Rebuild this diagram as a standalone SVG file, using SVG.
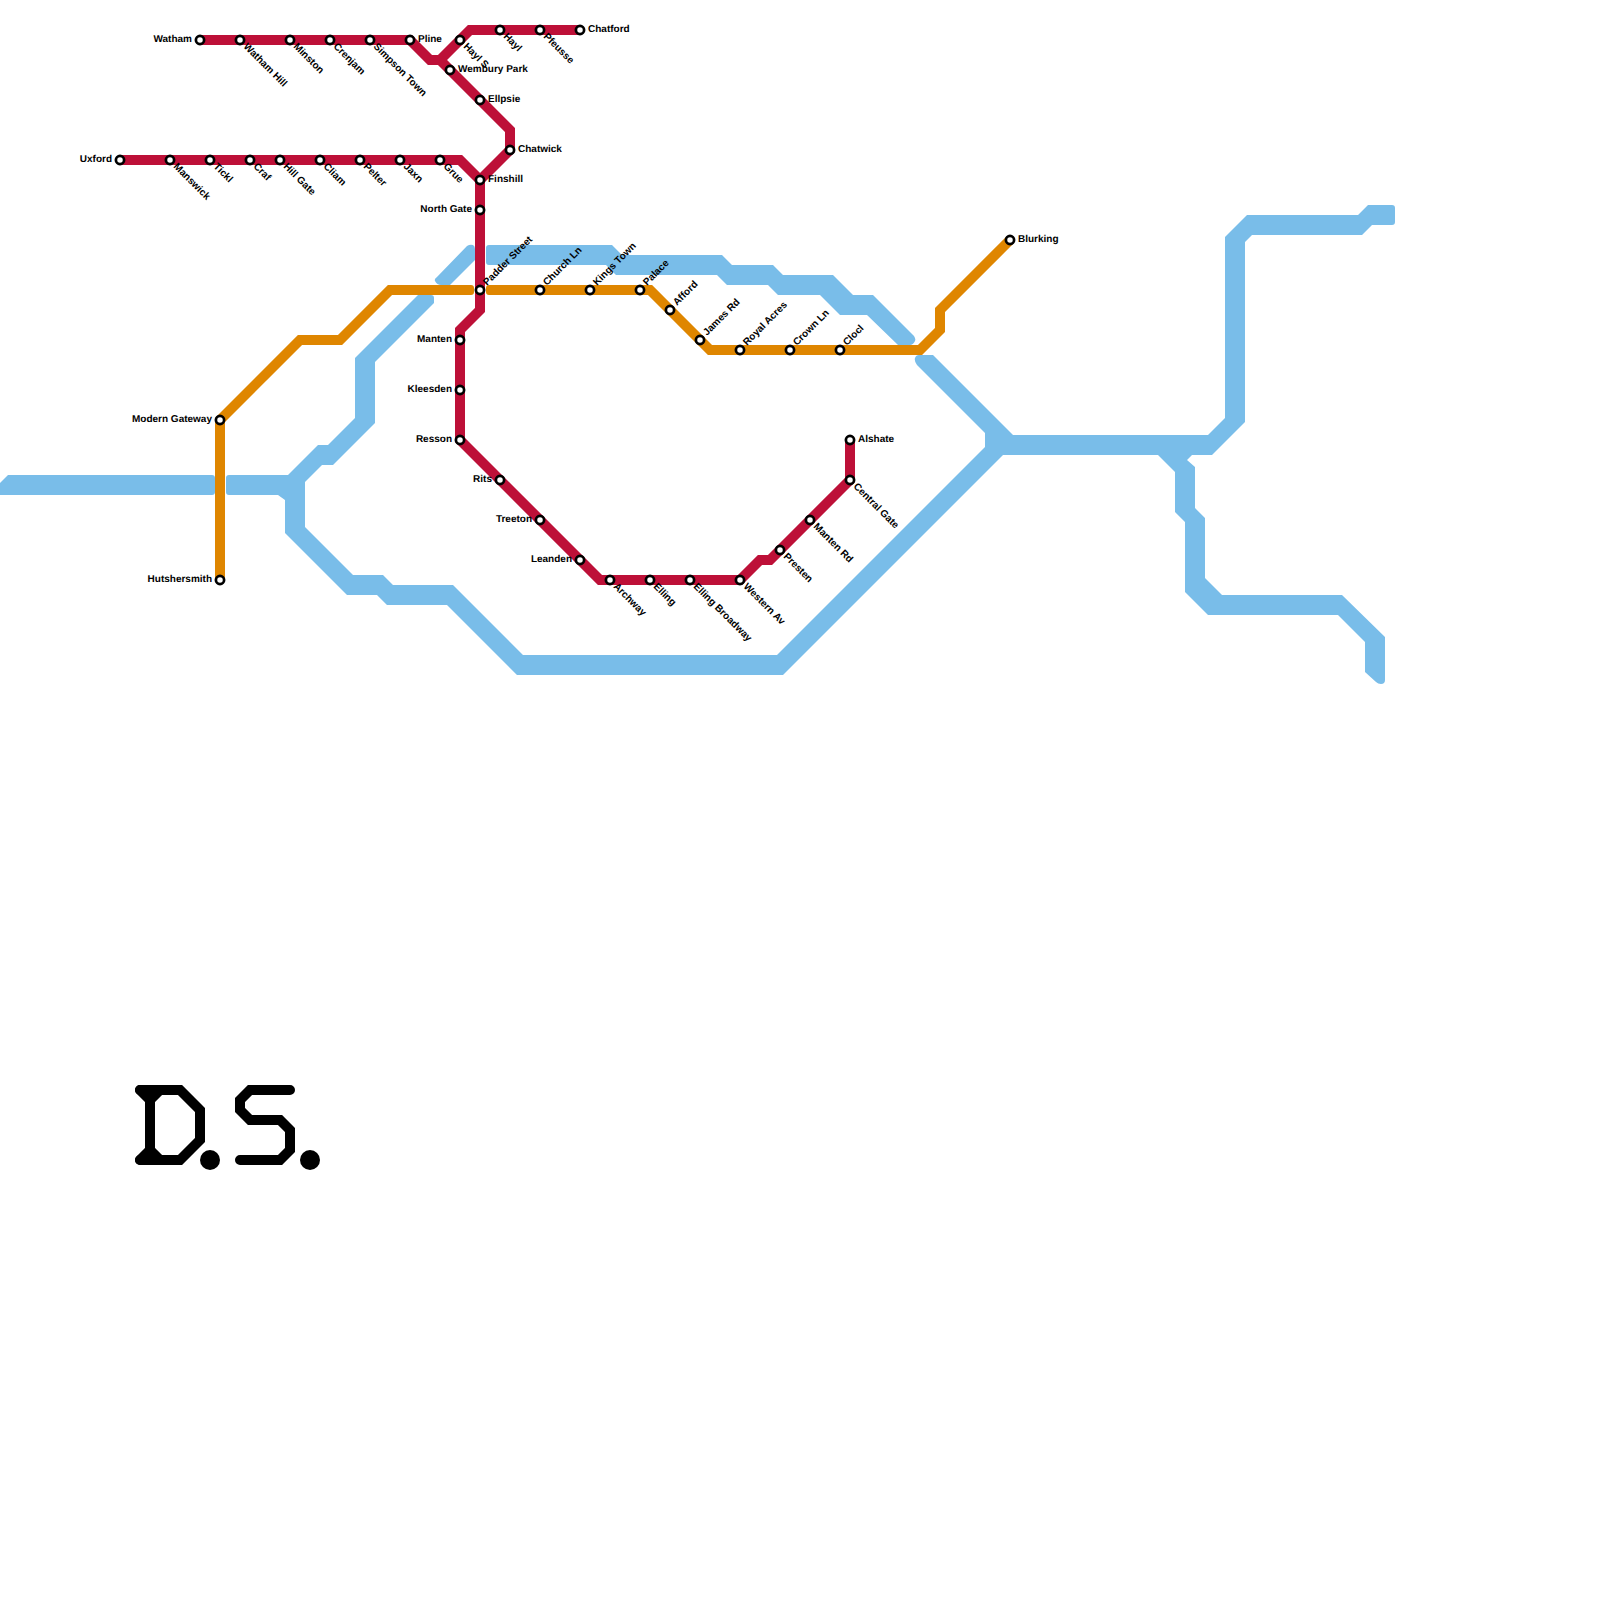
<svg xmlns="http://www.w3.org/2000/svg" width="1600" height="1600" viewBox="0 0 1600 1600">
<style>
.bf{fill:#79bde9;stroke:none}
.o{fill:none;stroke:#df8600;stroke-width:10;stroke-linejoin:miter}
.of{fill:#df8600}
.r{fill:none;stroke:#bd1038;stroke-width:10;stroke-linejoin:miter}
.k{fill:none;stroke:#000;stroke-width:10;stroke-linecap:round;stroke-linejoin:miter}
circle.s{fill:#fff;stroke:#000;stroke-width:2.7}
text{font-family:"Liberation Sans",Arial,sans-serif;font-size:10px;font-weight:700;fill:#000;text-rendering:geometricPrecision}
.e{text-anchor:end}
</style>
<defs><circle id="st" class="s" r="4.1"/></defs>
<rect width="1600" height="1600" fill="#fff"/>
<g id="connectors">
<g id="line-blue">
<path class="bf" d="M8,475H212Q215,475 215,478V492Q215,495 212,495H0V483Z"/>
<path class="bf" d="M229,475H288L318,445H328L355,418V358L418,295H431Q434,295 434,298V303L375,362V423L333,465H322L305,482V527L353,575H383L393,585H453L523,655H777L985,447V433L917,365Q914,361 915,358Q916,355 919,355H933L1013,435V455H1003L783,675H517L447,605H387L377,595H347L285,533V500L278,495H229Q226,495 226,492V478Q226,475 229,475Z"/>
<path class="bf" d="M437,277L467,246Q470,244 473,245Q475,246 475,249V260L450,285H441Q437,285 435,281Q434,279 437,277Z"/>
<path class="bf" d="M489,245H612L622,255H722L732,265H773L783,275H833L853,295H873L914,336Q916,339 915,341Q913,345 910,345H898L867,315H840L820,295H778L768,285H727L717,275H616L606,265H489Q486,265 486,262V248Q486,245 489,245Z"/>
<path class="bf" d="M1000,435H1208L1225,418V237L1247,215H1358L1368,205H1392Q1395,205 1395,208V222Q1395,225 1392,225H1372L1362,235H1252L1245,242V422L1212,455H1192L1187,460L1195,467V508L1205,518V578L1222,595H1342L1385,637V680Q1385,684 1381,684Q1378,684 1376,682L1365,672V642L1338,615H1208L1185,592V522L1175,512V472L1158,455H1000Z"/>
</g>
<g id="line-orange">
<path class="o" d="M220,580V420L300,340H340L390,290H470"/>
<rect class="of" x="464" y="285" width="10" height="10" rx="3"/>
<rect class="of" x="486" y="285" width="10" height="10" rx="3"/>
<path class="o" d="M490,290H650L710,350H920L940,330V310L1010,240"/>
</g>
<g id="line-red">
<path class="r" d="M200,40H410L430,60H440L470,30H580"/>
<path class="r" d="M440,60L510,130V150L480,180V310L460,330V440L600,580H740L760,560H770L850,480V440"/>
<path class="r" d="M120,160H460L480,180"/>
</g>
</g>
<g id="nodes">
<g id="n-watham"><use href="#st" x="200" y="40"/><text class="e" x="192" y="42">Watham</text></g>
<g id="n-watham-hill"><use href="#st" x="240" y="40"/><text transform="translate(243,47) rotate(45)">Watham Hill</text></g>
<g id="n-minston"><use href="#st" x="290" y="40"/><text transform="translate(293,47) rotate(45)">Minston</text></g>
<g id="n-crenjam"><use href="#st" x="330" y="40"/><text transform="translate(333,47) rotate(45)">Crenjam</text></g>
<g id="n-simpson-town"><use href="#st" x="370" y="40"/><text transform="translate(373,47) rotate(45)">Simpson Town</text></g>
<g id="n-pline"><use href="#st" x="410" y="40"/><text x="418" y="42">Pline</text></g>
<g id="n-hayl-s"><use href="#st" x="460" y="40"/><text transform="translate(463,47) rotate(45)">Hayl S</text></g>
<g id="n-hayl"><use href="#st" x="500" y="30"/><text transform="translate(503,37) rotate(45)">Hayl</text></g>
<g id="n-pfeusse"><use href="#st" x="540" y="30"/><text transform="translate(543,37) rotate(45)">Pfeusse</text></g>
<g id="n-chatford"><use href="#st" x="580" y="30"/><text x="588" y="32">Chatford</text></g>
<g id="n-wembury-park"><use href="#st" x="450" y="70"/><text x="458" y="72">Wembury Park</text></g>
<g id="n-ellpsie"><use href="#st" x="480" y="100"/><text x="488" y="102">Ellpsie</text></g>
<g id="n-chatwick"><use href="#st" x="510" y="150"/><text x="518" y="152">Chatwick</text></g>
<g id="n-uxford"><use href="#st" x="120" y="160"/><text class="e" x="112" y="162">Uxford</text></g>
<g id="n-manswick"><use href="#st" x="170" y="160"/><text transform="translate(173,167) rotate(45)">Manswick</text></g>
<g id="n-tickl"><use href="#st" x="210" y="160"/><text transform="translate(213,167) rotate(45)">Tickl</text></g>
<g id="n-craf"><use href="#st" x="250" y="160"/><text transform="translate(253,167) rotate(45)">Craf</text></g>
<g id="n-hill-gate"><use href="#st" x="280" y="160"/><text transform="translate(283,167) rotate(45)">Hill Gate</text></g>
<g id="n-cliam"><use href="#st" x="320" y="160"/><text transform="translate(323,167) rotate(45)">Cliam</text></g>
<g id="n-pelter"><use href="#st" x="360" y="160"/><text transform="translate(363,167) rotate(45)">Pelter</text></g>
<g id="n-jaxn"><use href="#st" x="400" y="160"/><text transform="translate(403,167) rotate(45)">Jaxn</text></g>
<g id="n-grue"><use href="#st" x="440" y="160"/><text transform="translate(443,167) rotate(45)">Grue</text></g>
<g id="n-finshill"><use href="#st" x="480" y="180"/><text x="488" y="182">Finshill</text></g>
<g id="n-north-gate"><use href="#st" x="480" y="210"/><text class="e" x="472" y="212">North Gate</text></g>
<g id="n-padder-street"><use href="#st" x="480" y="290"/><text transform="translate(487,286) rotate(-45)">Padder Street</text></g>
<g id="n-church-ln"><use href="#st" x="540" y="290"/><text transform="translate(547,286) rotate(-45)">Church Ln</text></g>
<g id="n-kings-town"><use href="#st" x="590" y="290"/><text transform="translate(597,286) rotate(-45)">Kings Town</text></g>
<g id="n-palace"><use href="#st" x="640" y="290"/><text transform="translate(647,286) rotate(-45)">Palace</text></g>
<g id="n-afford"><use href="#st" x="670" y="310"/><text transform="translate(677,306) rotate(-45)">Afford</text></g>
<g id="n-james-rd"><use href="#st" x="700" y="340"/><text transform="translate(707,336) rotate(-45)">James Rd</text></g>
<g id="n-royal-acres"><use href="#st" x="740" y="350"/><text transform="translate(747,346) rotate(-45)">Royal Acres</text></g>
<g id="n-crown-ln"><use href="#st" x="790" y="350"/><text transform="translate(797,346) rotate(-45)">Crown Ln</text></g>
<g id="n-clocl"><use href="#st" x="840" y="350"/><text transform="translate(847,346) rotate(-45)">Clocl</text></g>
<g id="n-blurking"><use href="#st" x="1010" y="240"/><text x="1018" y="242">Blurking</text></g>
<g id="n-modern-gateway"><use href="#st" x="220" y="420"/><text class="e" x="212" y="422">Modern Gateway</text></g>
<g id="n-hutshersmith"><use href="#st" x="220" y="580"/><text class="e" x="212" y="582">Hutshersmith</text></g>
<g id="n-manten"><use href="#st" x="460" y="340"/><text class="e" x="452" y="342">Manten</text></g>
<g id="n-kleesden"><use href="#st" x="460" y="390"/><text class="e" x="452" y="392">Kleesden</text></g>
<g id="n-resson"><use href="#st" x="460" y="440"/><text class="e" x="452" y="442">Resson</text></g>
<g id="n-rits"><use href="#st" x="500" y="480"/><text class="e" x="492" y="482">Rits</text></g>
<g id="n-treeton"><use href="#st" x="540" y="520"/><text class="e" x="532" y="522">Treeton</text></g>
<g id="n-leanden"><use href="#st" x="580" y="560"/><text class="e" x="572" y="562">Leanden</text></g>
<g id="n-archway"><use href="#st" x="610" y="580"/><text transform="translate(613,587) rotate(45)">Archway</text></g>
<g id="n-elling"><use href="#st" x="650" y="580"/><text transform="translate(653,587) rotate(45)">Elling</text></g>
<g id="n-elling-broadway"><use href="#st" x="690" y="580"/><text transform="translate(693,587) rotate(45)">Elling Broadway</text></g>
<g id="n-western-av"><use href="#st" x="740" y="580"/><text transform="translate(743,587) rotate(45)">Western Av</text></g>
<g id="n-presten"><use href="#st" x="780" y="550"/><text transform="translate(783,557) rotate(45)">Presten</text></g>
<g id="n-manten-rd"><use href="#st" x="810" y="520"/><text transform="translate(813,527) rotate(45)">Manten Rd</text></g>
<g id="n-central-gate"><use href="#st" x="850" y="480"/><text transform="translate(853,487) rotate(45)">Central Gate</text></g>
<g id="n-alshate"><use href="#st" x="850" y="440"/><text x="858" y="442">Alshate</text></g>
</g>
<g id="logo">
<path class="k" d="M140,1090H180L200,1110V1140L180,1160H140"/>
<path class="k" d="M140,1090L150,1100V1150L140,1160M160,1090L150,1100M150,1150L160,1160"/>
<circle cx="210" cy="1160" r="10"/>
<path class="k" d="M290,1090H250L240,1100V1110L250,1120H280L290,1130V1150L280,1160H240"/>
<circle cx="310" cy="1160" r="10"/>
</g>
</svg>
